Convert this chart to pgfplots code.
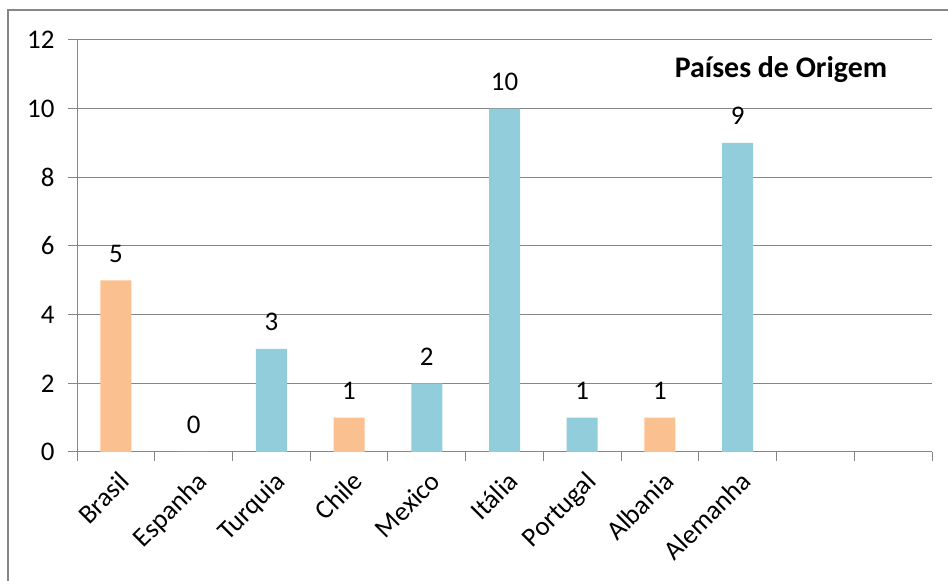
\documentclass[border=0pt]{standalone}
\usepackage{fontspec}
\setmainfont{Carlito}
\usepackage{pgfplots}
\pgfplotsset{compat=1.18}
\definecolor{barorange}{RGB}{250,192,144}
\definecolor{barblue}{RGB}{146,205,220}
\definecolor{gridgray}{RGB}{134,134,134}
\begin{document}
\begin{tikzpicture}
\path[use as bounding box] (0,0) rectangle (948bp,581bp);
\draw[gridgray, line width=1.5bp] (8bp,0) -- (8bp,571bp) -- (948bp,571bp);
\begin{axis}[
    at={(77bp,129bp)}, anchor=south west,
    scale only axis, width=855bp, height=412bp,
    xmin=-0.5, xmax=10.5, ymin=0, ymax=12,
    ytick={0,2,...,12},
    axis lines*=left,
    axis line style={gridgray, line width=1bp},
    ymajorgrids, grid style={gridgray, line width=1bp},
    tick align=outside, major tick length=9bp,
    tick style={gridgray, line width=1bp},
    xtick={-0.5,0.5,...,10.5}, xticklabels={},
    extra x ticks={0,...,8},
    extra x tick labels={Brasil,Espanha,Turquia,Chile,Mexico,Itália,Portugal,Albania,Alemanha},
    extra x tick style={major tick length=0pt, grid=none,
        tick label style={xshift=2bp, yshift=-18bp, rotate=45,
            anchor=north east, inner sep=0pt}},
    yticklabel style={xshift=-10bp},
    font=\fontsize{27}{32}\selectfont,
    /pgf/number format/assume math mode=true,
    ybar, bar width=31bp, bar shift=0pt,
    nodes near coords,
    nodes near coords style={text=black, anchor=south, inner sep=0pt,
        text depth=0pt, yshift=18bp, font=\fontsize{27}{32}\selectfont},
    clip=false,
]
% origem laranja
\addplot[fill=barorange, draw=none] coordinates {
    (0,5) (3,1) (7,1)
};
% origem azul
\addplot[fill=barblue, draw=none] coordinates {
    (1,0) (2,3) (4,2) (5,10) (6,1) (8,9)
};
\end{axis}
\node[anchor=base, font=\fontsize{30}{36}\selectfont\bfseries] at (781bp,503bp) {Países de Origem};
\end{tikzpicture}
\end{document}
